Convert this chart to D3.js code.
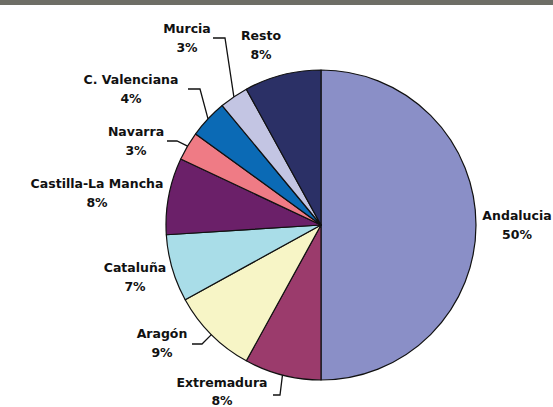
<!DOCTYPE html>
<html>
<head>
<meta charset="utf-8">
<script src="https://cdn.jsdelivr.net/npm/d3@7/dist/d3.min.js"></script>
<style>
  html, body { margin: 0; padding: 0; background: #fff; }
  svg { display: block; }
  text { font-family: "DejaVu Sans", Verdana, sans-serif; font-weight: bold; font-size: 12.5px; fill: #111; }
</style>
</head>
<body>
<svg id="chart" width="553" height="407"></svg>
<script>
// ---- data ----
const categories = ["Andalucia", "Extremadura", "Aragón", "Cataluña", "Castilla-La Mancha", "Navarra", "C. Valenciana", "Murcia", "Resto"];
const values = [50, 8, 9, 7, 8, 3, 4, 3, 8];
const percentLabels = ["50%", "8%", "9%", "7%", "8%", "3%", "4%", "3%", "8%"];

// ---- styling / layout ----
const colors = ["#8a8fc7", "#9b3b6c", "#f7f5c6", "#a9dde8", "#6b2069", "#ef7b85", "#0b6ab5", "#c3c5e3", "#2b3066"];
// label centre (first line) positions and gap to second line
const labelPos = [[517, 215], [222, 382], [162, 333], [135, 267], [97, 183], [136, 131], [131, 79], [187, 28], [261, 35]];
const labelGap = [19.5, 18, 19.5, 19.5, 19.5, 19.5, 19.5, 19.5, 19.5];
// leader lines: start point and elbow (null = no leader)
const leaders = [null, [[273, 395], [280, 395]], [[192, 344], [202, 344]], null, null, [[167, 141], [177, 141]], [[188, 89], [200, 89]], [[213, 38], [225, 38]], null];

const W = 553, H = 407;
const cx = 321, cy = 225, R = 155;

const svg = d3.select("#chart");

// top grey band
svg.append("rect").attr("x", 0).attr("y", 0).attr("width", W).attr("height", 5).attr("fill", "#6e6e66");

const data = categories.map((c, i) => ({ name: c, value: values[i], pct: percentLabels[i], i }));
const pie = d3.pie().sort(null).value(d => d.value).startAngle(0).endAngle(2 * Math.PI);
const arcs = pie(data);
const arc = d3.arc().innerRadius(0).outerRadius(R);
const edgeArc = d3.arc().innerRadius(R).outerRadius(R);

const g = svg.append("g").attr("transform", `translate(${cx},${cy})`);
g.selectAll("path.slice")
  .data(arcs)
  .join("path")
  .attr("class", "slice")
  .attr("d", arc)
  .attr("fill", d => colors[d.data.i])
  .attr("stroke", "#111")
  .attr("stroke-width", 1.2)
  .attr("stroke-linejoin", "round");

// leader lines
const line = d3.line();
arcs.forEach(d => {
  const L = leaders[d.data.i];
  if (!L) return;
  const e = edgeArc.centroid(d);
  const pts = [L[0], L[1], [e[0] + cx, e[1] + cy]];
  svg.append("path")
    .attr("d", line(pts))
    .attr("fill", "none")
    .attr("stroke", "#111")
    .attr("stroke-width", 1.3);
});

// labels
arcs.forEach(d => {
  const [x, y] = labelPos[d.data.i];
  const t = svg.append("text").attr("text-anchor", "middle");
  t.append("tspan").attr("x", x).attr("y", y).attr("dy", "0.36em").text(d.data.name);
  t.append("tspan").attr("x", x).attr("y", y + labelGap[d.data.i]).attr("dy", "0.36em").text(d.data.pct);
});
</script>
</body>
</html>
